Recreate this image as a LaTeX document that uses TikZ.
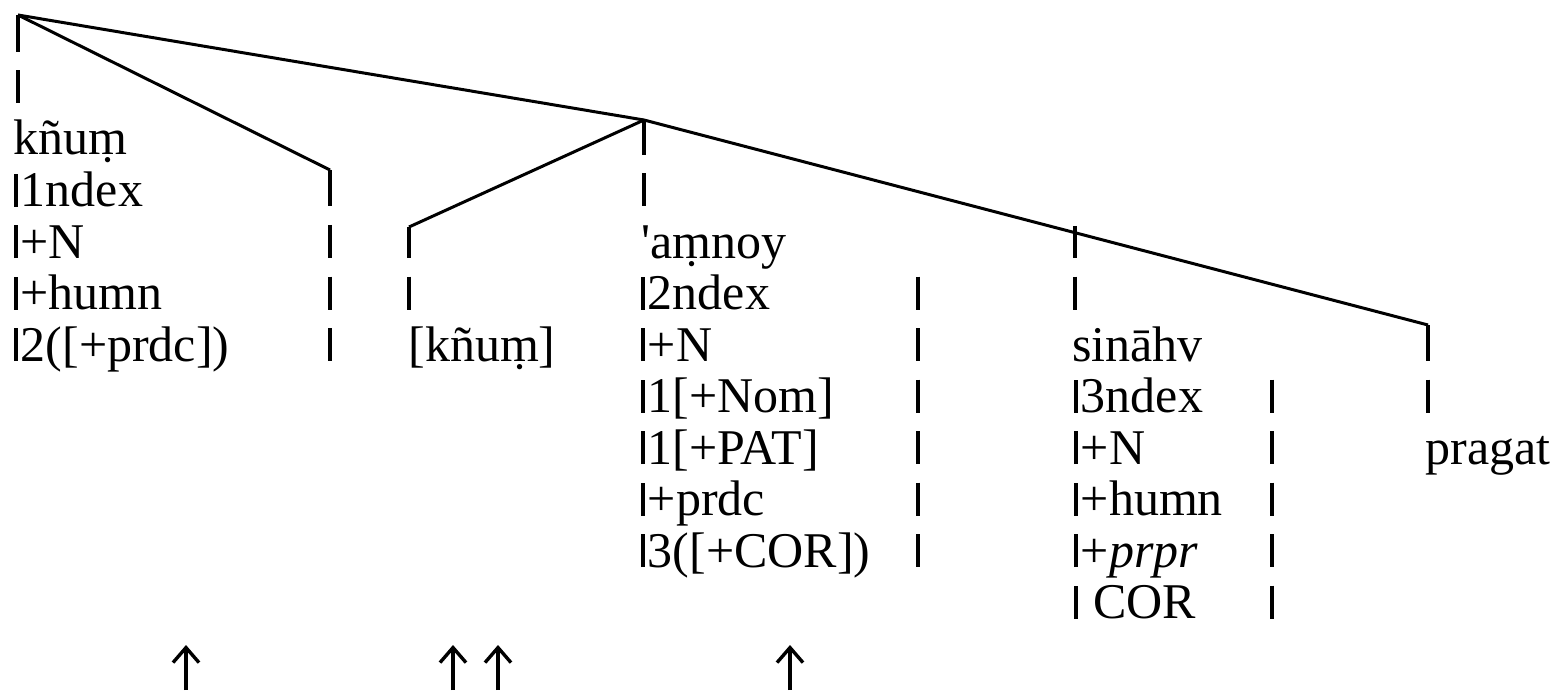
\documentclass[tikz,border=0pt]{standalone}
\usepackage{fontspec}
\setmainfont{Liberation Serif}[Ligatures=TeXOff]
\usetikzlibrary{arrows.meta}
\newcommand\vb{\rule{1.7pt}{16.5pt}\hspace{1.5pt}}
\begin{document}
\begin{tikzpicture}[x=0.5pt,y=-0.5pt,
  tree/.style={line width=1.5pt},
  colbar/.style={line width=1.7pt},
  txt/.style={anchor=base west, inner sep=0pt, font=\fontsize{25pt}{26pt}\selectfont},
  uparr/.style={line width=1.7pt,-{Straight Barb[length=7.5pt,width=13pt,line width=1.7pt]}}]
\useasboundingbox (0,0) rectangle (1562,695);

% tree points
\coordinate (root) at (18,15);
\coordinate (c1) at (330,170);
\coordinate (inner) at (644,120);
\coordinate (c2) at (409,227);
\coordinate (c4) at (1428,325);
\coordinate (c3) at (1075,232.6);
\coordinate (c3top) at (1075,226);

% tree lines
\draw[tree] (root) -- (c1);
\draw[tree] (root) -- (inner) -- (c4);
\draw[tree] (inner) -- (c2);

% column bars
\draw[colbar] (root) -- (18,52);
\draw[colbar] (18,70.5) -- (18,103.5);

\draw[colbar] (c1) -- (330,206.5);
\foreach \b in {258,309.5,361} \draw[colbar] (330,{\b-33}) -- (330,\b);

\draw[colbar] (inner) -- (644,155);
\draw[colbar] (644,173.5) -- (644,206.5);

\draw[colbar] (c2) -- (409,258);
\draw[colbar] (409,276.5) -- (409,309.5);

\foreach \b in {309.5,361,412.5,464,515.5,567} \draw[colbar] (918,{\b-33}) -- (918,\b);

\draw[colbar] (c3top) -- (1075,258);
\draw[colbar] (1075,276.5) -- (1075,309.5);

\foreach \b in {412.5,464,515.5,567,618.5} \draw[colbar] (1272,{\b-33}) -- (1272,\b);

\draw[colbar] (c4) -- (1428,361);
\draw[colbar] (1428,379.5) -- (1428,412.5);

% texts: first column
\node[txt] (a0) at (13,155) {kñuṃ};
\node[txt] (a1) at (14,206.5) {\vb 1ndex};
\node[txt] (a2) at (14,258) {\vb+N};
\node[txt] (a3) at (14,309.5) {\vb+humn};
\node[txt] (a4) at (14,361) {\vb 2([+prdc])};

% second
\node[txt] (b0) at (408,361) {[kñuṃ]};

% third
\node[txt] (d0) at (641,258) {'aṃnoy};
\node[txt] (d1) at (641,309.5) {\vb 2ndex};
\node[txt] (d2) at (641,361) {\vb+N};
\node[txt] (d3) at (641,412.5) {\vb 1[+Nom]};
\node[txt] (d4) at (641,464) {\vb 1[+PAT]};
\node[txt] (d5) at (641,515.5) {\vb+prdc};
\node[txt] (d6) at (641,567) {\vb 3([+COR])};

% fourth
\node[txt] (e0) at (1072,361) {sināhv};
\node[txt] (e1) at (1074,412.5) {\vb 3ndex};
\node[txt] (e2) at (1074,464) {\vb+N};
\node[txt] (e3) at (1074,515.5) {\vb+humn};
\node[txt] (e4) at (1074,567) {\vb+\textit{prpr}};
\node[txt] (e5) at (1074,618.5) {\vb\ COR};

% fifth
\node[txt] (f0) at (1425,464) {pragat};

% arrows
\coordinate (p1b) at (186,690); \coordinate (p1t) at (186,645);
\coordinate (p2b) at (453,690); \coordinate (p2t) at (453,645);
\coordinate (p3b) at (498,690); \coordinate (p3t) at (498,645);
\coordinate (p4b) at (790,690); \coordinate (p4t) at (790,645);
\draw[uparr] (p1b) -- (p1t);
\draw[uparr] (p2b) -- (p2t);
\draw[uparr] (p3b) -- (p3t);
\draw[uparr] (p4b) -- (p4t);
\end{tikzpicture}
\end{document}
